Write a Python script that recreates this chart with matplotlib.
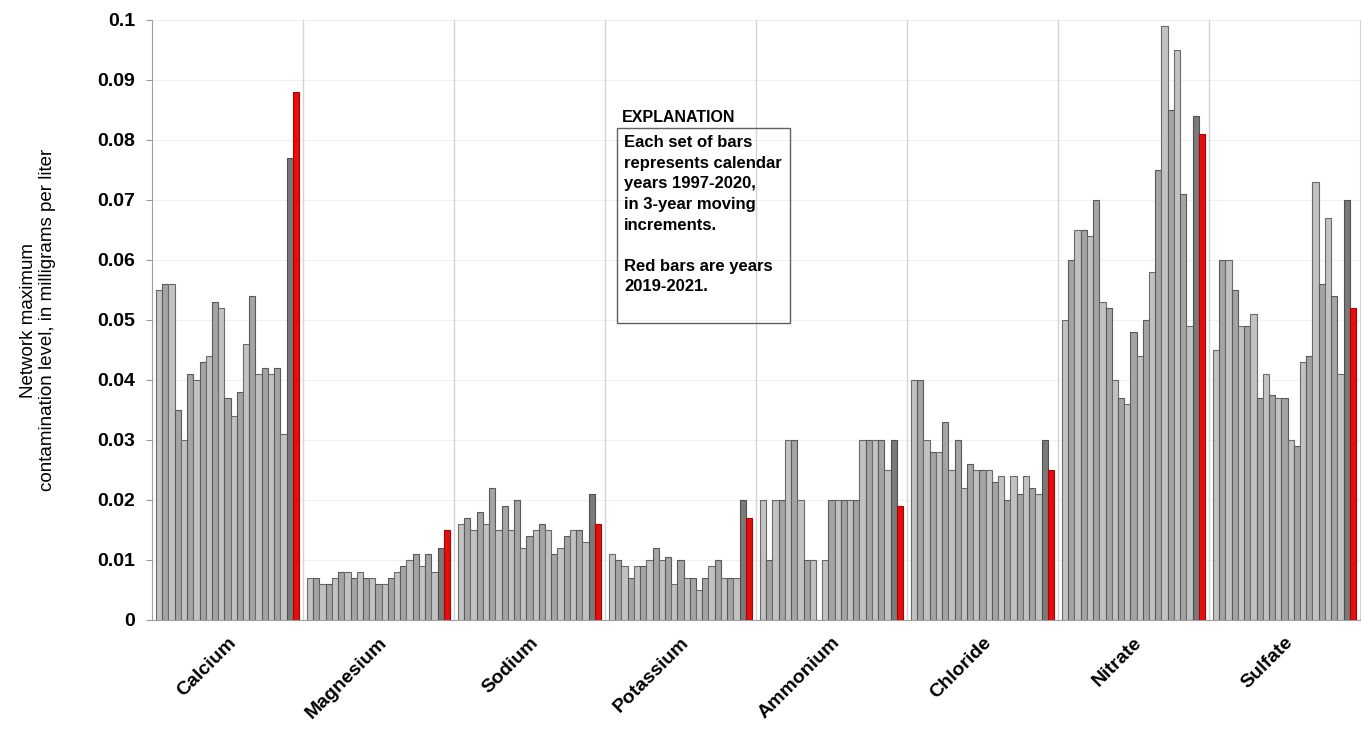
import matplotlib
matplotlib.use("Agg")
import matplotlib.pyplot as plt
import numpy as np

categories = ["Calcium", "Magnesium", "Sodium", "Potassium", "Ammonium",
              "Chloride", "Nitrate", "Sulfate"]

calcium = [0.055, 0.056, 0.056, 0.035, 0.030, 0.041, 0.040, 0.043, 0.044, 0.053, 0.052, 0.037,
           0.034, 0.038, 0.046, 0.054, 0.041, 0.042, 0.041, 0.042, 0.031, 0.077, 0.088]
magnesium = [0.007, 0.007, 0.006, 0.006, 0.007, 0.008, 0.008, 0.007, 0.008, 0.007, 0.007, 0.006,
             0.006, 0.007, 0.008, 0.009, 0.010, 0.011, 0.009, 0.011, 0.008, 0.012, 0.015]
sodium = [0.016, 0.017, 0.015, 0.018, 0.016, 0.022, 0.015, 0.019, 0.015, 0.020, 0.012, 0.014,
          0.015, 0.016, 0.015, 0.011, 0.012, 0.014, 0.015, 0.015, 0.013, 0.021, 0.016]
potassium = [0.011, 0.010, 0.009, 0.007, 0.009, 0.009, 0.010, 0.012, 0.010, 0.0105, 0.006, 0.010,
             0.007, 0.007, 0.005, 0.007, 0.009, 0.010, 0.007, 0.007, 0.007, 0.020, 0.017]
ammonium = [0.020, 0.010, 0.020, 0.020, 0.030, 0.030, 0.020, 0.010, 0.010, 0.0, 0.010, 0.020,
            0.020, 0.020, 0.020, 0.020, 0.030, 0.030, 0.030, 0.030, 0.025, 0.030, 0.019]
chloride = [0.040, 0.040, 0.030, 0.028, 0.028, 0.033, 0.025, 0.030, 0.022, 0.026, 0.025, 0.025,
            0.025, 0.023, 0.024, 0.020, 0.024, 0.021, 0.024, 0.022, 0.021, 0.030, 0.025]
nitrate = [0.050, 0.060, 0.065, 0.065, 0.064, 0.070, 0.053, 0.052, 0.040, 0.037, 0.036, 0.048,
           0.044, 0.050, 0.058, 0.075, 0.099, 0.085, 0.095, 0.071, 0.049, 0.084, 0.081]
sulfate = [0.045, 0.060, 0.060, 0.055, 0.049, 0.049, 0.051, 0.037, 0.041, 0.0375, 0.037, 0.037,
           0.030, 0.029, 0.043, 0.044, 0.073, 0.056, 0.067, 0.054, 0.041, 0.070, 0.052]

series = [calcium, magnesium, sodium, potassium, ammonium, chloride, nitrate, sulfate]
yticks = [0, 0.01, 0.02, 0.03, 0.04, 0.05, 0.06, 0.07, 0.08, 0.09, 0.1]
ytick_labels = ["0", "0.01", "0.02", "0.03", "0.04", "0.05", "0.06", "0.07", "0.08", "0.09", "0.1"]

plt.rcParams['font.family'] = ['Liberation Sans', 'DejaVu Sans']

fig = plt.figure(figsize=(13.64, 7.37), dpi=100)
ax = fig.add_axes([152/1364, 1-620/737, (1360-152)/1364, 600/737])

n = len(calcium)
w = (142/150) / n
for gi, vals in enumerate(series):
    for j, v in enumerate(vals):
        x = gi - 0.5 + (4/150) + w*(j + 0.5)
        if j == n - 1:
            fc, ec = "#e01010", "#b00000"
        elif j == n - 2:
            fc, ec = "#7a7a7a", "#505050"
        elif j % 2 == 0:
            fc, ec = "#c2c2c2", "#6a6a6a"
        else:
            fc, ec = "#a4a4a4", "#5a5a5a"
        ax.bar(x, v, width=w, color=fc, edgecolor=ec, linewidth=0.8, zorder=3)

ax.set_xlim(-0.5, len(categories) - 0.5)
ax.set_ylim(0, 0.1)
ax.set_yticks(yticks)
ax.set_yticklabels(ytick_labels, fontsize=14, fontweight='bold')
ax.set_xticks(range(len(categories)))
ax.set_xticklabels(categories, rotation=45, ha='right', rotation_mode='anchor',
                   fontsize=14, fontweight='bold')
ax.tick_params(axis='x', length=0, pad=10)
ax.tick_params(axis='y', length=4, color="#999999", pad=8)

for b in np.arange(0.5, len(categories) - 0.5, 1.0):
    ax.axvline(b, color="#d4d4d4", linewidth=1.0, zorder=1)
for t in yticks[1:]:
    ax.axhline(t, color="#f0f0f0", linewidth=0.8, zorder=0)

ax.spines["top"].set_visible(False)
ax.spines["left"].set_color("#a0a0a0")
ax.spines["bottom"].set_color("#a0a0a0")
ax.spines["right"].set_color("#d4d4d4")

fig.text(38/1364, 1-320/737, "Network maximum\ncontamination level, in milligrams per liter",
         rotation=90, ha='center', va='center', fontsize=13.5, linespacing=1.1)

fig.text(622/1364, 1-117/737, "EXPLANATION", fontsize=11.5, fontweight='bold',
         ha='left', va='center')
box_text = ("Each set of bars\nrepresents calendar\nyears 1997-2020,\nin 3-year moving\n"
            "increments.\n\nRed bars are years\n2019-2021.")
fig.text(624/1364, 1-135/737, box_text, fontsize=12, fontweight='bold', ha='left', va='top',
         linespacing=1.47)
rect = plt.Rectangle((617/1364, 1-323/737), (790-617)/1364, (323-128)/737,
                     transform=fig.transFigure, fill=False, edgecolor="#606060", linewidth=1.0)
fig.add_artist(rect)

fig.savefig("out.png", dpi=100)
